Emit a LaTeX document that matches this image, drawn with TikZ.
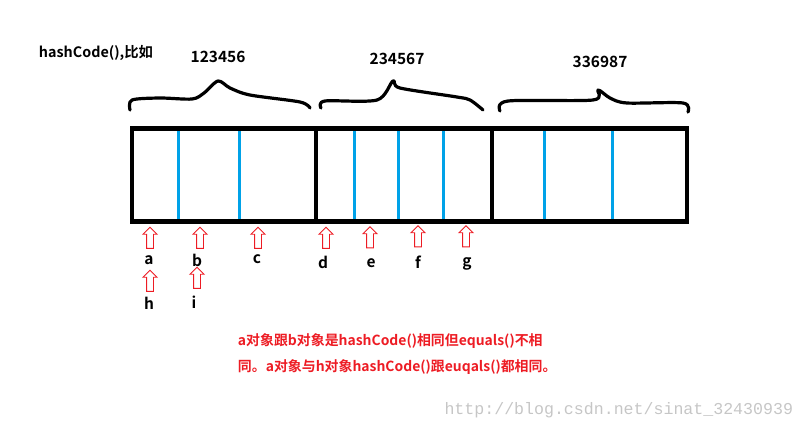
\documentclass[tikz,border=0pt]{standalone}
\usepackage{fontspec}
\setmainfont{Noto Sans CJK SC}[BoldFont={Noto Sans CJK SC Bold}]
\newfontfamily\urlfont{Liberation Mono}
\usetikzlibrary{positioning, shapes.arrows}
\definecolor{paintblue}{RGB}{0,162,232}
\definecolor{paintred}{RGB}{237,28,36}
\tikzset{up arrow/.style={single arrow, draw=paintred, line width=0.7pt, rotate=90, minimum height=0.525cm,
    inner sep=0.075cm, single arrow head extend=0.0875cm, single arrow tip angle=90},
  letter/.style={font=\fontsize{11}{13}\selectfont\bfseries},
  hash/.style={font=\fontsize{11}{13}\selectfont\bfseries},
  note/.style={paintred, font=\fontsize{9.9}{12}\selectfont\bfseries, anchor=west},
  brace/.style={line width=0.08cm, line cap=round, line join=round},}

\begin{document}
\begin{tikzpicture}[x=0.025cm, y=-0.025cm]
			\useasboundingbox (0,0) rectangle (807,429);
			% Title and hash values
			\node[font=\fontsize{10.2}{12}\selectfont\bfseries, anchor=west] (title) at (34,53) {hashCode(),比如};
			\node[hash] (h1) at (218,57) {123456};
			\node[hash] (h2) at (397,59) {234567};
			\node[hash] (h3) at (600,62) {336987};

			% Braces
			\draw[brace] plot[smooth, tension=0.5] coordinates {(130,110) (132,100) (160,98) (192,99) (204,93) (218,81) (230,88) (250,95) (300,102) (310,108)};
			\draw[brace] plot[smooth, tension=0.5] coordinates {(321,108) (325,101) (377,100) (393,81) (400,88) (457,97) (470,100) (483,110)};
			\draw[brace] plot[smooth, tension=0.5] coordinates {(500,111) (508,101) (593,100) (598,90) (610,98) (627,103) (683,103) (688,112)};

			% Table
			\foreach \x in {178, 239, 354, 398, 443, 544, 612}
				\draw[paintblue, line width=0.075cm] (\x,130) -- (\x,220);
			\foreach \x in {316, 492}
				\draw[line width=0.1125cm] (\x,128.5) -- (\x,221.5);
			\draw[line width=0.1125cm] (132,128.5) rectangle (687,221.5);

			% Arrows
			\node[up arrow] (arra) at (150,239.5) {};
			\node[up arrow] (arrb) at (200,239.5) {};
			\node[up arrow] (arrc) at (258,239.5) {};
			\node[up arrow] (arrd) at (326,239.5) {};
			\node[up arrow] (arre) at (370,239) {};
			\node[up arrow] (arrf) at (418,238) {};
			\node[up arrow] (arrg) at (466,238) {};
			\node[up arrow] (arrh) at (150,282.5) {};
			\node[up arrow] (arri) at (197,279.5) {};

			% Labels
			\node[letter] (a) at (149,260) {a};
			\node[letter] (b) at (197,260) {b};
			\node[letter] (c) at (257,259) {c};
			\node[letter] (d) at (323,262) {d};
			\node[letter] (e) at (371,263) {e};
			\node[letter] (f) at (418,262) {f};
			\node[letter] (g) at (467,264) {g};
			\node[letter] (h) at (149,303) {h};
			\node[letter] (i) at (194,302) {i};

			% Note
			\node[note] (note1) at (233,341) {a对象跟b对象是hashCode()相同但equals()不相};
			\node[note] (note2) at (233,367) {同。a对象与h对象hashCode()跟euqals()都相同。};
			\node[gray!45, font=\fontsize{11.8}{14}\urlfont, anchor=east] (url) at (798,410) {http://blog.csdn.net/sinat\_32430939};
		\end{tikzpicture}
\end{document}
